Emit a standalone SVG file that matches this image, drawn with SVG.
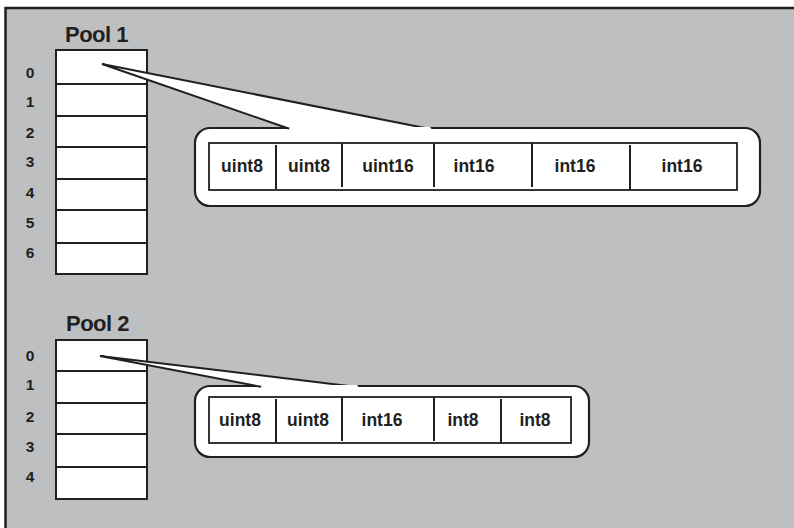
<svg xmlns="http://www.w3.org/2000/svg" width="794" height="528" viewBox="0 0 794 528">
<style>
.cell{fill:#fff;stroke:#231f20;stroke-width:2}
.call{fill:#fff;stroke:#231f20;stroke-width:2.2}
.t{font-family:"Liberation Sans",Arial,sans-serif;font-weight:bold;font-size:17.5px;fill:#231f20;text-anchor:middle}
.idx{font-family:"Liberation Sans",Arial,sans-serif;font-weight:bold;font-size:15.5px;fill:#231f20;text-anchor:middle}
.title{font-family:"Liberation Sans",Arial,sans-serif;font-weight:bold;font-size:22px;fill:#231f20}
.div{stroke:#231f20;stroke-width:2}
.ptr{fill:#fff;stroke:#231f20;stroke-width:2;stroke-linejoin:miter}
</style>
<rect x="0" y="0" width="794" height="528" fill="#fff"/>
<rect x="5.5" y="8" width="800" height="530" fill="#bebfc1" stroke="#231f20" stroke-width="2.5"/>

<g id="pool1">
<text class="title" x="65" y="42" letter-spacing="-0.5">Pool 1</text>
<rect class="cell" x="56" y="50" width="91" height="34"/>
<rect class="cell" x="56" y="84" width="91" height="32"/>
<rect class="cell" x="56" y="116" width="91" height="31"/>
<rect class="cell" x="56" y="147" width="91" height="32"/>
<rect class="cell" x="56" y="179" width="91" height="31"/>
<rect class="cell" x="56" y="210" width="91" height="33"/>
<rect class="cell" x="56" y="243" width="91" height="31"/>
<text class="idx" x="30" y="78">0</text>
<text class="idx" x="30" y="107">1</text>
<text class="idx" x="30" y="138">2</text>
<text class="idx" x="30" y="167">3</text>
<text class="idx" x="30" y="198">4</text>
<text class="idx" x="30" y="228">5</text>
<text class="idx" x="30" y="258">6</text>
</g>

<g id="pool2">
<text class="title" x="66" y="331" letter-spacing="-0.5">Pool 2</text>
<rect class="cell" x="56" y="340" width="91" height="31"/>
<rect class="cell" x="56" y="371" width="91" height="32"/>
<rect class="cell" x="56" y="403" width="91" height="31"/>
<rect class="cell" x="56" y="434" width="91" height="33"/>
<rect class="cell" x="56" y="467" width="91" height="32"/>
<text class="idx" x="30" y="361">0</text>
<text class="idx" x="30" y="390">1</text>
<text class="idx" x="30" y="422">2</text>
<text class="idx" x="30" y="452">3</text>
<text class="idx" x="30" y="482">4</text>
</g>

<g id="connectors">
<g id="callout1">
<rect class="call" x="195" y="128" width="565" height="78" rx="15" ry="15"/>
<path class="ptr" d="M290,129 L102,64 L430,129"/>
<path d="M288,131 L433,131 L430,127 L290,127 Z" fill="#fff"/>
</g>
<g id="callout2">
<rect class="call" x="195" y="386" width="394" height="71" rx="15" ry="15"/>
<path class="ptr" d="M262,387 L100,356 L357,387"/>
<path d="M260,389 L360,389 L357,385 L262,385 Z" fill="#fff"/>
</g>
</g>

<g id="record1">
<rect x="209" y="143" width="528" height="47" fill="#fff" stroke="#231f20" stroke-width="1.8"/>
<line class="div" x1="276" y1="145" x2="276" y2="189"/>
<line class="div" x1="342" y1="143" x2="342" y2="187"/>
<line class="div" x1="434" y1="143" x2="434" y2="187"/>
<line class="div" x1="532" y1="143" x2="532" y2="187"/>
<line class="div" x1="630" y1="145" x2="630" y2="190"/>
<text class="t" x="242" y="172">uint8</text>
<text class="t" x="309" y="172">uint8</text>
<text class="t" x="388" y="172">uint16</text>
<text class="t" x="474" y="172">int16</text>
<text class="t" x="575" y="172">int16</text>
<text class="t" x="682" y="172">int16</text>
</g>

<g id="record2">
<rect x="209" y="397" width="362" height="46" fill="#fff" stroke="#231f20" stroke-width="1.8"/>
<line class="div" x1="276" y1="399" x2="276" y2="443"/>
<line class="div" x1="342" y1="397" x2="342" y2="441"/>
<line class="div" x1="434" y1="397" x2="434" y2="441"/>
<line class="div" x1="501" y1="399" x2="501" y2="443"/>
<text class="t" x="240" y="426">uint8</text>
<text class="t" x="308" y="426">uint8</text>
<text class="t" x="382" y="426">int16</text>
<text class="t" x="463" y="426">int8</text>
<text class="t" x="535" y="426">int8</text>
</g>
</svg>
